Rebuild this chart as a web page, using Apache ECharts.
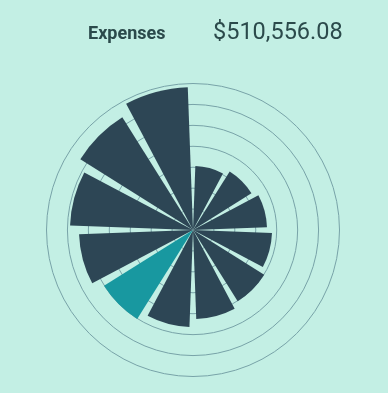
<!DOCTYPE html>
<html>
<head>
<meta charset="utf-8">
<script src="https://cdn.jsdelivr.net/npm/echarts@6/dist/echarts.min.js"></script>
<style>
html,body{margin:0;padding:0;background:#c3efe4;}
#chart{width:388px;height:393px;}
</style>
</head>
<body>
<div id="chart"></div>
<script>
const months = ['Jan','Feb','Mar','Apr','May','Jun','Jul','Aug','Sep','Oct','Nov','Dec'];
const expenses = [27850.40, 30010.22, 32190.75, 34360.18, 36540.90, 38710.33, 42190.61, 45670.27, 49580.44, 53490.86, 57840.52, 62120.60];
const highlightIndex = 7;
const totalLabel = '$510,556.08';
const titleLabel = 'Expenses';

const chart = echarts.init(document.getElementById('chart'));
chart.setOption({
  backgroundColor: '#c3efe4',
  animation: false,
  polar: { center: [193, 230], radius: 146.5 },
  angleAxis: {
    type: 'category',
    data: months,
    startAngle: 90,
    clockwise: true,
    axisLine: { show: false },
    axisTick: { show: false },
    axisLabel: { show: false },
    splitLine: { show: false }
  },
  radiusAxis: {
    type: 'value',
    min: 0,
    max: 63700,
    interval: 9100,
    axisLine: { show: false },
    axisTick: { show: false },
    axisLabel: { show: false },
    splitLine: { show: true, lineStyle: { color: '#78a3a8', width: 1 } }
  },
  series: [{
    type: 'bar',
    coordinateSystem: 'polar',
    barCategoryGap: '14%',
    data: expenses.map((v, i) => ({
      value: v,
      itemStyle: { color: i === highlightIndex ? '#1898a0' : '#2d4655' }
    }))
  }],
  graphic: [
    { type: 'text', left: 88, top: 25, style: { text: titleLabel, font: 'bold 18px Roboto', fill: '#2b4a4b' } },
    { type: 'text', left: 213, top: 21, style: { text: totalLabel, font: '23.5px Roboto', fill: '#2b4a4b' } }
  ]
});
</script>
</body>
</html>
